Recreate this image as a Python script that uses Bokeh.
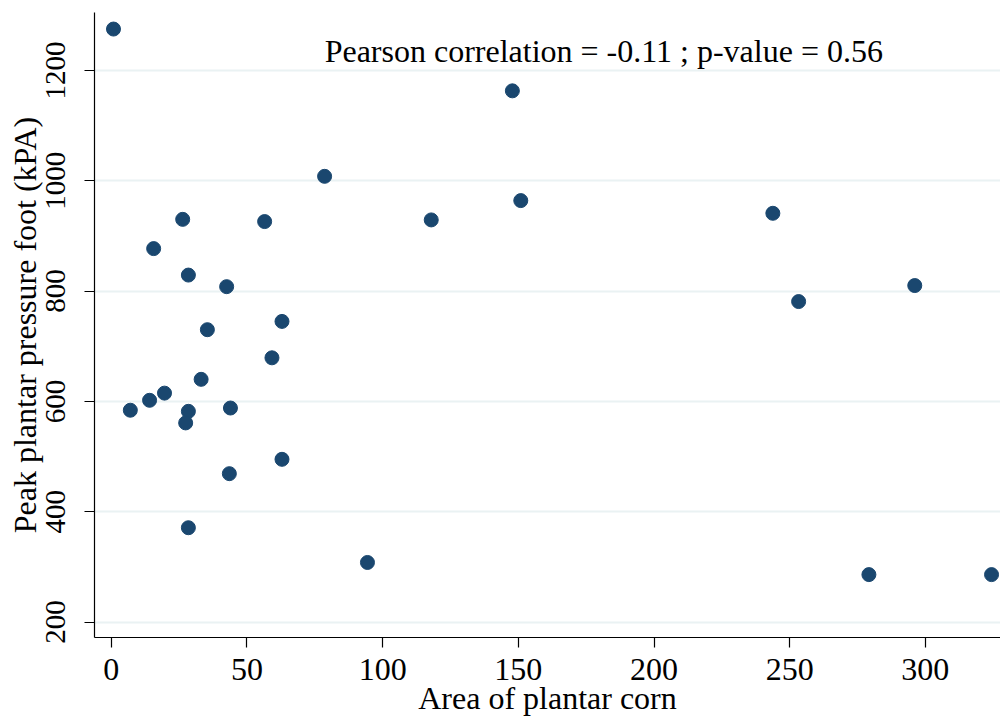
from bokeh.plotting import figure
from bokeh.models import Range1d, FixedTicker, Label
from bokeh.embed import file_html
from bokeh.resources import INLINE

# Data
area = [0.8, 78.6, 26.3, 56.5, 15.6, 28.4, 42.5, 62.9, 35.4, 59.2,
        33.1, 19.6, 14.1, 7.0, 28.4, 27.4, 43.9, 62.9, 43.5, 28.4,
        147.8, 117.9, 150.9, 243.8, 253.3, 296.1, 94.4, 279.2, 324.4]
pressure = [1275, 1008, 930, 926, 877, 829, 808, 745, 730, 679,
            640, 615, 602, 584, 582, 561, 588, 495, 469, 371,
            1163, 929, 964, 941, 781, 810, 308, 286, 286]
x_ticks = [0, 50, 100, 150, 200, 250, 300]
y_ticks = [200, 400, 600, 800, 1000, 1200]
annotation = "Pearson correlation = -0.11 ; p-value = 0.56"

FONT = "Liberation Serif"
NAVY = "#1a476f"
GRID = "#eaf2f3"
FS = "32px"

p = figure(width=1000, height=720, output_backend="svg", toolbar_location=None,
           x_range=Range1d(-6.2, 327.7), y_range=Range1d(172, 1305),
           min_border_left=94, min_border_right=0, min_border_top=12, min_border_bottom=83)
p.outline_line_color = None
p.background_fill_color = "white"
p.border_fill_color = "white"

p.xgrid.grid_line_color = None
p.ygrid.grid_line_color = GRID
p.ygrid.grid_line_width = 2
p.ygrid.ticker = FixedTicker(ticks=y_ticks)

p.xaxis.ticker = FixedTicker(ticks=x_ticks)
p.yaxis.ticker = FixedTicker(ticks=y_ticks)
for ax in (p.xaxis, p.yaxis):
    ax.axis_line_color = "black"
    ax.axis_line_width = 1.2
    ax.major_tick_line_color = "black"
    ax.major_tick_line_width = 1.2
    ax.major_tick_out = 10
    ax.major_tick_in = 0
    ax.minor_tick_line_color = None
    ax.major_label_text_font = FONT
    ax.major_label_text_font_size = FS
    ax.major_label_text_color = "black"
    ax.axis_label_text_font = FONT
    ax.axis_label_text_font_size = FS
    ax.axis_label_text_font_style = "normal"
    ax.axis_label_text_color = "black"

p.yaxis.major_label_text_font_size = "29px"
p.xaxis.axis_label = "Area of plantar corn"
p.yaxis.axis_label = "Peak plantar pressure foot (kPA)"
p.yaxis.major_label_orientation = "vertical"
p.xaxis.major_label_standoff = 11
p.yaxis.major_label_standoff = 19
p.xaxis.axis_label_standoff = -3
p.yaxis.axis_label_standoff = 1

p.scatter(area, pressure, size=14, fill_color=NAVY, line_color=NAVY, marker="circle")

p.add_layout(Label(x=181.5, y=1236, text=annotation, text_align="center",
                   text_baseline="middle", text_font=FONT, text_font_size=FS,
                   text_color="black"))

open("out.html", "w").write(file_html(p, INLINE))
